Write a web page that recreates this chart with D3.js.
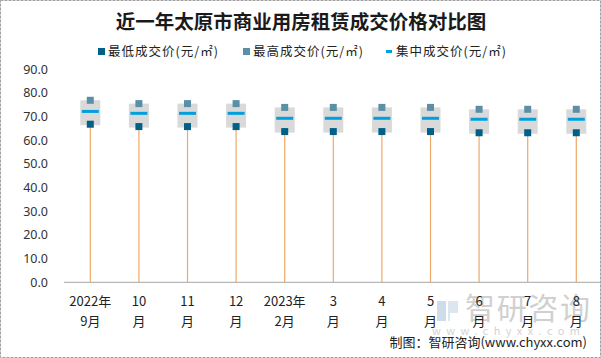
<!DOCTYPE html>
<html><head><meta charset="utf-8">
<script src="https://cdn.jsdelivr.net/npm/d3@7/dist/d3.min.js"></script>
<style>
body{margin:0;background:#fff;}
svg{display:block;font-family:"Noto Sans CJK SC","Noto Sans",sans-serif;}
</style></head>
<body><svg id="c" width="601" height="358"></svg>
<script>
const categories = ["2022年|9月","10|月","11|月","12|月","2023年|2月","3|月","4|月","5|月","6|月","7|月","8|月"];
const lowPrice  = [66.7, 65.7, 65.7, 65.7, 63.6, 63.6, 63.6, 63.6, 63.1, 63.1, 63.1];
const highPrice = [76.8, 75.4, 75.4, 75.4, 73.8, 73.8, 73.8, 73.8, 73.0, 73.0, 73.0];
const midPrice  = [72.1, 71.3, 71.3, 71.3, 69.2, 69.2, 69.2, 69.2, 68.8, 68.8, 68.8];
const yTicks = [0,10,20,30,40,50,60,70,80,90];
const seriesNames = ["最低成交价(元/㎡)","最高成交价(元/㎡)","集中成交价(元/㎡)"];
const title = "近一年太原市商业用房租赁成交价格对比图";
const source = "制图：智研咨询(www.chyxx.com)";

const svg = d3.select("#c");
const W = 601, H = 358;
const colLow = "#006088", colHigh = "#5b8fa8", colMid = "#00a0dc", colBox = "#d9d9d9", colStem = "#f0a868";

// border
svg.append("rect").attr("x",0.5).attr("y",0.5).attr("width",W-1).attr("height",H-1)
  .attr("fill","none").attr("stroke","#a0a0a0").attr("stroke-dasharray","3,1");

// watermark
const wm = svg.append("g");
wm.append("rect").attr("x",437).attr("y",301).attr("width",9).attr("height",20).attr("fill","#cfdcea");
wm.append("path").attr("d","M448,301 h10 v12 h-8 v8 h-2 z").attr("fill","#dde6ef");
wm.append("text").attr("x",465).attr("y",319).attr("font-size",30).attr("fill","#d0d0d0")
  .attr("textLength",125).text("智研咨询");
wm.append("text").attr("x",432).attr("y",335).attr("font-size",11).attr("fill","#d4d4d4")
  .attr("textLength",148).text("www.chyxx.com");

const x = d3.scalePoint().domain(categories).range([90.3, 576.3]);
const y = d3.scaleLinear().domain([0,90]).range([282.3, 69]);

// title
svg.append("text").attr("x",301).attr("y",29).attr("text-anchor","middle")
  .attr("font-size",19.5).attr("font-weight","bold").attr("fill","#1a1a1a").text(title);

// legend
const lg = svg.append("g").attr("font-size",12.5).attr("fill","#222");
const lx = [98, 243, 386];
lg.append("rect").attr("x",lx[0]).attr("y",48).attr("width",7).attr("height",7).attr("fill",colLow);
lg.append("rect").attr("x",lx[1]).attr("y",48).attr("width",7).attr("height",7).attr("fill",colHigh);
lg.append("rect").attr("x",lx[2]).attr("y",50).attr("width",6).attr("height",3).attr("fill",colMid);
[108,253,396].forEach((tx,i)=>{
  lg.append("text").attr("x",tx).attr("y",56).attr("textLength",110).attr("fill","#222").text(seriesNames[i]);
});

// y axis labels
const yAxis = d3.axisLeft(y).tickValues(yTicks).tickFormat(d3.format(".1f")).tickSize(0).tickPadding(0);
const ya = svg.append("g").attr("transform","translate(48,0)").call(yAxis);
ya.select(".domain").remove();
ya.selectAll("text").attr("font-size",12.5).attr("fill","#333").attr("font-family","\"Noto Sans\",sans-serif");

// x axis line
svg.append("line").attr("x1",64).attr("x2",600).attr("y1",y(0)).attr("y2",y(0))
  .attr("stroke","#a6a6a6").attr("stroke-width",1);

// stems
svg.append("g").selectAll("line").data(categories).join("line")
  .attr("x1",d=>x(d)).attr("x2",d=>x(d))
  .attr("y1",(d,i)=>y(lowPrice[i])).attr("y2",y(0))
  .attr("stroke",colStem).attr("stroke-width",1.2);

// boxes
svg.append("g").selectAll("rect").data(categories).join("rect")
  .attr("x",d=>x(d)-10).attr("width",20)
  .attr("y",(d,i)=>y(highPrice[i]))
  .attr("height",(d,i)=>y(lowPrice[i])-y(highPrice[i])+1)
  .attr("fill",colBox);

// mid lines
svg.append("g").selectAll("rect").data(categories).join("rect")
  .attr("x",d=>x(d)-8.5).attr("width",17)
  .attr("y",(d,i)=>y(midPrice[i])-1.5).attr("height",3)
  .attr("fill",colMid);

// high squares
svg.append("g").selectAll("rect").data(categories).join("rect")
  .attr("x",d=>x(d)-3.5).attr("width",7)
  .attr("y",(d,i)=>y(highPrice[i])-3.5).attr("height",7)
  .attr("fill",colHigh);

// low squares
svg.append("g").selectAll("rect").data(categories).join("rect")
  .attr("x",d=>x(d)-3.5).attr("width",7)
  .attr("y",(d,i)=>y(lowPrice[i])-3.5).attr("height",7)
  .attr("fill",colLow);

// x labels
const xl = svg.append("g").attr("font-size",13).attr("fill","#222").attr("text-anchor","middle");
categories.forEach(c=>{
  const parts = c.split("|");
  const t = xl.append("text").attr("x",x(c));
  t.append("tspan").attr("x",x(c)).attr("y",306).text(parts[0]);
  t.append("tspan").attr("x",x(c)).attr("y",326).text(parts[1]);
});

// source
svg.append("text").attr("x",587).attr("y",347).attr("text-anchor","end")
  .attr("font-size",13).attr("fill","#222").text(source);
</script>
</body></html>
